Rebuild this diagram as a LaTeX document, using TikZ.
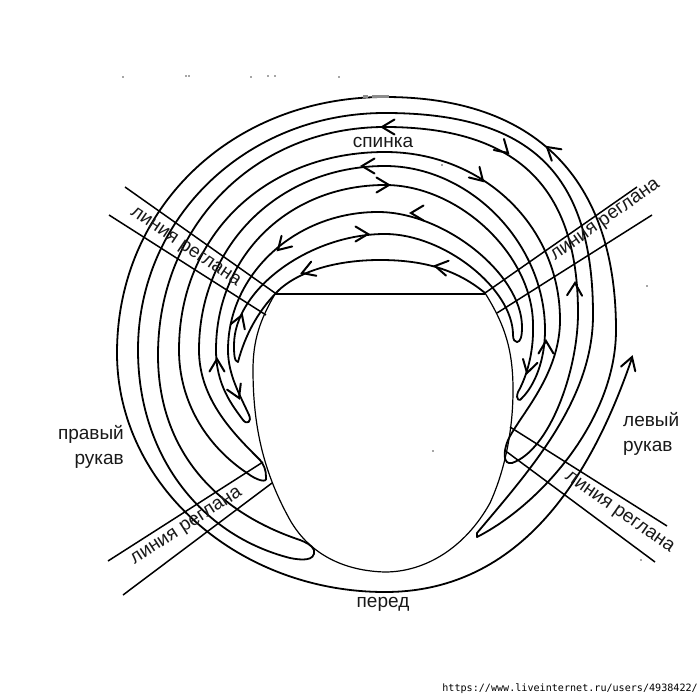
\documentclass[tikz,border=0pt]{standalone}
\usepackage{fontspec}
\setmainfont{Liberation Sans}
\newfontfamily\urlfont{DejaVu Sans Mono}
\tikzset{
  strand/.style={line width=1.8pt,line cap=round,line join=round,black},
  bodyline/.style={line width=1.2pt,black},
  reglan/.style={line width=1.5pt,black},
  vtip/.style={line width=2pt,line cap=round,line join=miter,black},
  lbl/.style={font=\fontsize{19}{25}\selectfont,inner sep=0pt,text=black!90},
}
\newcommand{\vmark}[3]{\draw[vtip,shift={(#1,#2)},rotate=#3] (-12.5,7.5) -- (0,0) -- (-12.5,-7.5);}
% \strandarc{xl}{yl}{xt}{yt}{xr}{yr}{kl}{kr}: left side, over the apex, to the right side
\newcommand{\strandarc}[8]{\draw[strand] (#1,#2)
  .. controls ({#1},{#2-#7*(#2-#4)}) and ({#3-#7*(#3-#1)},{#4}) .. (#3,#4)
  .. controls ({#3+#8*(#5-#3)},{#4}) and ({#5},{#6-#8*(#6-#4)}) .. (#5,#6);}
\begin{document}
\begin{tikzpicture}[x=1pt,y=-1pt]
\useasboundingbox (0,0) rectangle (700,700);
\fill[white] (0,0) rectangle (700,700);
% upper halves
\strandarc{117}{353}{385}{97}{616}{330}{0.57}{0.65}
\strandarc{138}{350}{385}{113}{593}{315}{0.56}{0.70}
\strandarc{158}{355}{385}{127}{578}{313}{0.57}{0.68}
\strandarc{179}{350}{385}{152}{560}{320}{0.58}{0.56}
\strandarc{199}{350}{385}{166}{545}{330}{0.57}{0.53}
\strandarc{216}{350}{385}{185}{533}{325}{0.57}{0.50}
\strandarc{228}{350}{378}{212}{522}{327}{0.55}{0.46}
\strandarc{234}{345}{385}{234}{513}{335}{0.50}{0.46}
% neck arc
\draw[strand] (275,294) .. controls (295,272) and (335,260) .. (380,260) .. controls (420,260) and (455,268) .. (485,293);
% lower left
\draw[strand] (117,353) .. controls (117,485) and (238,592) .. (385,592) .. controls (530,592) and (597,460) .. (632,358);
\draw[strand] (138,350) .. controls (138,455) and (200,535) .. (290,558) .. controls (300,560) and (316,562) .. (314,550) .. controls (312,545) and (305,542) .. (300,540);
\draw[strand] (158,355) .. controls (158,445) and (210,510) .. (300,540);
\draw[strand] (179,350) .. controls (179,400) and (205,445) .. (247,473) .. controls (256,480) and (268,484) .. (266,477);
\draw[strand] (199,350) .. controls (199,400) and (235,435) .. (260,460) .. controls (264,465) and (266,470) .. (266,477);
\draw[strand] (216,350) .. controls (216,385) and (232,405) .. (243,420) .. controls (247,425) and (252,422) .. (249,415);
\draw[strand] (228,350) .. controls (228,375) and (240,395) .. (249,415);
\draw[strand] (234,345) .. controls (234,352) and (234,362) .. (238,362);
\draw[strand] (275,294) .. controls (258,312) and (245,335) .. (238,362);
% lower right
\draw[strand] (616,330) .. controls (616,420) and (540,505) .. (477,537);
\draw[strand] (593,315) .. controls (593,400) and (530,470) .. (477,533) -- (477,537);
\draw[strand] (578,313) .. controls (578,370) and (550,450) .. (512,463);
\draw[strand] (560,320) .. controls (560,375) and (520,415) .. (508,440) .. controls (503,452) and (503,465) .. (512,463);
\draw[strand] (545,330) .. controls (545,360) and (535,385) .. (522,398);
\draw[strand] (533,325) .. controls (534,355) and (525,380) .. (518,392) .. controls (515,400) and (520,402) .. (522,398);
\draw[strand] (522,327) .. controls (522,335) and (521,342) .. (517,342);
\draw[strand] (513,335) .. controls (513,340) and (515,342) .. (517,342);
% body
\draw[bodyline] (275,294) .. controls (260,320) and (253,340) .. (253,370) .. controls (253,430) and (265,475) .. (290,520) .. controls (310,555) and (345,571) .. (385,572) .. controls (425,572) and (465,548) .. (490,503) .. controls (505,470) and (513,430) .. (513,390) .. controls (513,350) and (505,325) .. (485,293);
\draw[line width=1.5pt] (275,294) -- (485,294);
% reglan lines
\draw[reglan] (125,187) -- (275,293);
\draw[reglan] (109,215) -- (266,315);
\draw[reglan] (637,187) -- (485,293);
\draw[reglan] (652,215) -- (497,313);
\draw[reglan] (108,561) -- (263,462);
\draw[reglan] (123,595) -- (272,483);
\draw[reglan] (510,427) -- (667,526);
\draw[reglan] (507,452) -- (655,562);
% arrow marks
\vmark{382}{127}{180}
\vmark{508}{153}{-43}
\vmark{547}{147}{140}
\vmark{362}{166}{180}
\vmark{389}{185}{0}
\vmark{483}{181}{-45}
\vmark{411}{213}{180}
\vmark{278}{250}{225}
\vmark{368}{234}{0}
\vmark{435}{266}{170}
\vmark{302}{273}{200}
\vmark{242}{315}{70}
\vmark{217}{359}{90}
\vmark{239}{398}{-66}
\vmark{575}{283}{88}
\vmark{546}{341}{90}
\vmark{527}{373}{255}
\vmark{632}{357}{72}
% labels
\node[lbl] (spinka) at (383,142) {спинка};
\node[lbl] (pered) at (383,604) {перед};
\node[lbl,align=right,anchor=east] (right) at (124,447) {правый\\рукав};
\node[lbl,align=left,anchor=west] (left) at (623,434) {левый\\рукав};
\node[lbl,rotate=-34] (r1) at (185,248) {линия реглана};
\node[lbl,rotate=35] (r2) at (606,221) {линия реглана};
\node[lbl,rotate=33] (r3) at (187,527) {линия реглана};
\node[lbl,rotate=-35] (r4) at (619,513) {линия реглана};
% scanning residue
\fill[black!45] (363,95.5) rectangle (368,98.5);
\fill[black!45] (372,95.5) rectangle (389,98.5);
\foreach \px/\py in {123/77,186/76,189/76,251/77,268/76,275/76,339/77,433/451,442/165,647/286,641/560}
  \fill[black!70] (\px,\py) circle (0.8);
\node[anchor=east,inner sep=0pt,font=\urlfont\fontsize{10.1}{10.1}\selectfont] (url) at (698,689) {https://www.liveinternet.ru/users/4938422/};
\end{tikzpicture}
\end{document}
